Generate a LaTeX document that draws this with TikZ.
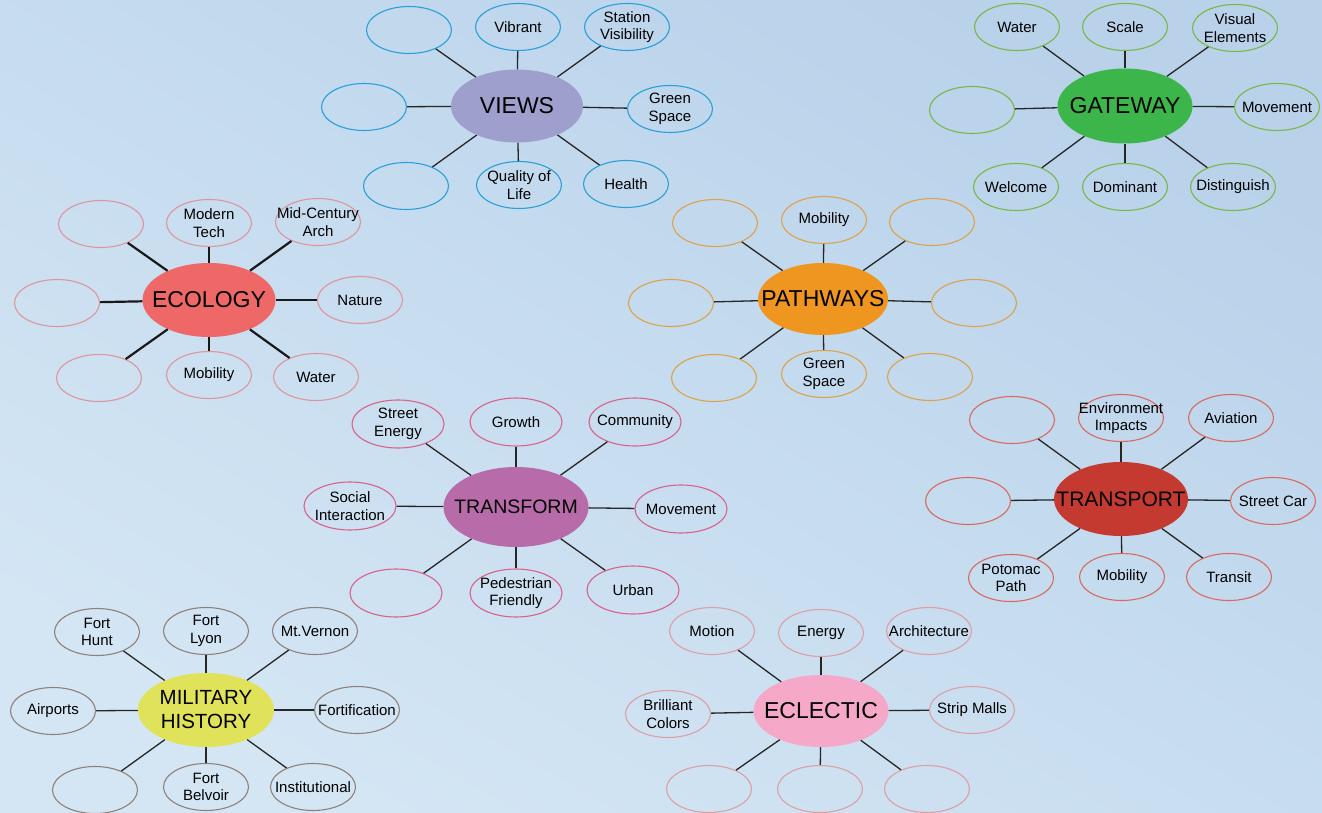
\documentclass[tikz,border=0pt]{standalone}
\usepackage{fontspec}
\setmainfont{Liberation Sans}
\usetikzlibrary{shapes.geometric}
\definecolor{bgA}{HTML}{B9D2EA}
\definecolor{bgB}{HTML}{D4E6F4}
\definecolor{vwH}{HTML}{9E9FCD}\definecolor{vwL}{HTML}{2B9FD9}
\definecolor{gwH}{HTML}{3CB54A}\definecolor{gwL}{HTML}{7AB648}
\definecolor{ecH}{HTML}{EF6868}\definecolor{ecL}{HTML}{DE959D}
\definecolor{pwH}{HTML}{EE961F}\definecolor{pwL}{HTML}{DDA24A}
\definecolor{tfH}{HTML}{B86BA9}\definecolor{tfL}{HTML}{D9628A}
\definecolor{tpH}{HTML}{C53A30}\definecolor{tpL}{HTML}{DA6A60}
\definecolor{mhH}{HTML}{E0E35A}\definecolor{mhL}{HTML}{8E807A}
\definecolor{elH}{HTML}{F5A8C8}\definecolor{elL}{HTML}{DE9EA6}
\begin{document}
\begin{tikzpicture}[x=1pt,y=-1pt,
  leaf/.style={ellipse, draw=#1, line width=1.1pt, minimum width=85pt, minimum height=47pt, inner sep=0pt},
  bigleaf/.style={leaf=#1, minimum width=92pt, minimum height=48pt},
  lt/.style={align=center, inner sep=0pt, text=black, font=\fontsize{15}{17.5}\selectfont},
  hub/.style={ellipse, fill=#1, minimum width=133pt, minimum height=74pt, inner sep=0pt},
  ht/.style={align=center, inner sep=0pt, text=black, font=\fontsize{23}{25}\selectfont},
  link/.style={line width=1.3pt, black!85},
  thicklink/.style={line width=2.2pt, black!90}]
\useasboundingbox (0,0) rectangle (1322,813);
\shade[top color=bgA, bottom color=bgB, shading angle=330] (0,0) rectangle (1322,813);

% ---------------- VIEWS
\node[hub=vwH, minimum width=132pt, minimum height=73pt, label={[ht]center:VIEWS}] (vw) at (517,106) {};
\node[leaf=vwL] (vw1) at (409,30) {};
\node[leaf=vwL, label={[lt]center:Vibrant}] (vw2) at (518,27) {};
\node[leaf=vwL, label={[lt]center:Station\\Visibility}] (vw3) at (627,27) {};
\node[leaf=vwL] (vw4) at (364,107) {};
\node[leaf=vwL, label={[lt]center:Green\\Space}] (vw5) at (670,109) {};
\node[leaf=vwL] (vw6) at (406,186) {};
\node[leaf=vwL, label={[lt]center:Quality of\\Life}] (vw7) at (519,185) {};
\node[leaf=vwL, label={[lt]center:Health}] (vw8) at (626,184) {};
\foreach \i in {1,...,8} \draw[link] (vw) -- (vw\i);

% ---------------- GATEWAY
\node[hub=gwH, minimum width=135pt, minimum height=75pt, label={[ht]center:GATEWAY}] (gw) at (1125,106) {};
\node[leaf=gwL, label={[lt]center:Water}] (gw1) at (1017,27) {};
\node[leaf=gwL, label={[lt]center:Scale}] (gw2) at (1125,27) {};
\node[leaf=gwL, label={[lt]center:Visual\\Elements}] (gw3) at (1235,28) {};
\node[leaf=gwL] (gw4) at (972,110) {};
\node[leaf=gwL, label={[lt]center:Movement}] (gw5) at (1277,107) {};
\node[leaf=gwL, label={[lt]center:Welcome}] (gw6) at (1016,187) {};
\node[leaf=gwL, label={[lt]center:Dominant}] (gw7) at (1125,187) {};
\node[leaf=gwL, label={[lt]center:Distinguish}] (gw8) at (1233,187) {};
\foreach \i in {1,...,8} \draw[link] (gw) -- (gw\i);

% ---------------- ECOLOGY
\node[hub=ecH, label={[ht]center:ECOLOGY}] (ec) at (209,300) {};
\node[leaf=ecL] (ec1) at (101,224) {};
\node[leaf=ecL, label={[lt]center:Modern\\Tech}] (ec2) at (209,223) {};
\node[leaf=ecL, label={[lt]center:Mid-Century\\Arch}] (ec3) at (318,222) {};
\node[leaf=ecL] (ec4) at (57,303) {};
\node[leaf=ecL, label={[lt]center:Nature}] (ec5) at (360,300) {};
\node[leaf=ecL] (ec6) at (99,378) {};
\node[leaf=ecL, label={[lt]center:Mobility}] (ec7) at (209,375) {};
\node[leaf=ecL, label={[lt]center:Water}] (ec8) at (316,377) {};
\foreach \i in {1,...,8} \draw[thicklink] (ec) -- (ec\i);

% ---------------- PATHWAYS
\node[hub=pwH, minimum width=130pt, minimum height=72pt, label={[ht]center:PATHWAYS}] (pw) at (823,299) {};
\node[leaf=pwL] (pw1) at (715,223) {};
\node[leaf=pwL, label={[lt]center:Mobility}] (pw2) at (824,220) {};
\node[leaf=pwL] (pw3) at (932,222) {};
\node[leaf=pwL] (pw4) at (671,303) {};
\node[leaf=pwL] (pw5) at (974,303) {};
\node[leaf=pwL] (pw6) at (714,378) {};
\node[leaf=pwL, label={[lt]center:Green\\Space}] (pw7) at (824,374) {};
\node[leaf=pwL] (pw8) at (930,377) {};
\foreach \i in {1,...,8} \draw[link] (pw) -- (pw\i);

% ---------------- TRANSFORM
\node[hub=tfH, minimum width=145pt, minimum height=80pt, label={[ht, font=\fontsize{19.5}{22}\selectfont]center:TRANSFORM}] (tf) at (516,507) {};
\node[bigleaf=tfL, label={[lt]center:Street\\Energy}] (tf1) at (398,424) {};
\node[bigleaf=tfL, label={[lt]center:Growth}] (tf2) at (516,422) {};
\node[bigleaf=tfL, label={[lt]center:Community}] (tf3) at (635,422) {};
\node[bigleaf=tfL, label={[lt]center:Social\\Interaction}] (tf4) at (350,506) {};
\node[bigleaf=tfL, label={[lt]center:Movement}] (tf5) at (681,509) {};
\node[bigleaf=tfL] (tf6) at (396,593) {};
\node[bigleaf=tfL, label={[lt]center:Pedestrian\\Friendly}] (tf7) at (516,593) {};
\node[bigleaf=tfL, label={[lt]center:Urban}] (tf8) at (633,590) {};
\foreach \i in {1,...,8} \draw[link] (tf) -- (tf\i);

% ---------------- TRANSPORT
\node[hub=tpH, minimum width=134pt, label={[ht, font=\fontsize{21}{24}\selectfont]center:TRANSPORT}] (tp) at (1121,499) {};
\node[leaf=tpL] (tp1) at (1012,420) {};
\node[leaf=tpL, label={[lt]center:Environment\\Impacts}] (tp2) at (1121,418) {};
\node[leaf=tpL, label={[lt]center:Aviation}] (tp3) at (1231,418) {};
\node[leaf=tpL] (tp4) at (968,501) {};
\node[leaf=tpL, label={[lt]center:Street Car}] (tp5) at (1273,501) {};
\node[leaf=tpL, label={[lt]center:Potomac\\Path}] (tp6) at (1011,578) {};
\node[leaf=tpL, label={[lt]center:Mobility}] (tp7) at (1122,577) {};
\node[leaf=tpL, label={[lt]center:Transit}] (tp8) at (1229,577) {};
\foreach \i in {1,...,8} \draw[link] (tp) -- (tp\i);

% ---------------- MILITARY HISTORY
\node[hub=mhH, minimum width=136pt, label={[ht, font=\fontsize{20.5}{24}\selectfont]center:MILITARY\\HISTORY}] (mh) at (206,710) {};
\node[leaf=mhL, label={[lt]center:Fort\\Hunt}] (mh1) at (97,632) {};
\node[leaf=mhL, label={[lt]center:Fort\\Lyon}] (mh2) at (206,631) {};
\node[leaf=mhL, label={[lt]center:Mt.Vernon}] (mh3) at (315,631) {};
\node[leaf=mhL, label={[lt]center:Airports}] (mh4) at (53,711) {};
\node[leaf=mhL, label={[lt]center:Fortification}] (mh5) at (357,710) {};
\node[leaf=mhL] (mh6) at (95,790) {};
\node[leaf=mhL, label={[lt]center:Fort\\Belvoir}] (mh7) at (206,787) {};
\node[leaf=mhL, label={[lt]center:Institutional}] (mh8) at (313,787) {};
\foreach \i in {1,...,8} \draw[link] (mh) -- (mh\i);

% ---------------- ECLECTIC
\node[hub=elH, minimum width=135pt, minimum height=72pt, label={[ht]center:ECLECTIC}] (el) at (821,711) {};
\node[leaf=elL, label={[lt]center:Motion}] (el1) at (712,631) {};
\node[leaf=elL, label={[lt]center:Energy}] (el2) at (821,633) {};
\node[leaf=elL, label={[lt]center:Architecture}] (el3) at (929,631) {};
\node[leaf=elL, label={[lt]center:Brilliant\\Colors}] (el4) at (668,714) {};
\node[leaf=elL, label={[lt]center:Strip Malls}] (el5) at (972,710) {};
\node[leaf=elL] (el6) at (709,789) {};
\node[leaf=elL] (el7) at (820,789) {};
\node[leaf=elL] (el8) at (927,789) {};
\foreach \i in {1,...,8} \draw[link] (el) -- (el\i);
\end{tikzpicture}
\end{document}
